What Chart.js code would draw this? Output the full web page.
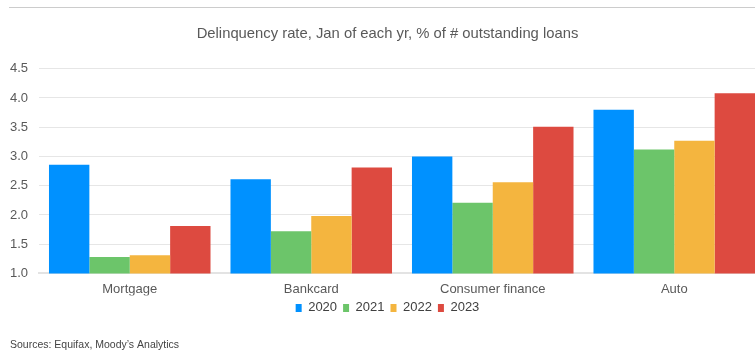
<!DOCTYPE html>
<html>
<head>
<meta charset="utf-8">
<script src="https://cdn.jsdelivr.net/npm/chart.js@4"></script>
<style>
  html, body { margin: 0; padding: 0; overflow: hidden; background: #ffffff; }
  #frame { position: relative; width: 755px; height: 351px; overflow: hidden; }
  #rule { position: absolute; top: 7px; left: 9px; right: 0; height: 1px; background: #cccccc; }
  #wrap { position: absolute; top: 0; left: 0; width: 775px; height: 351px; }
</style>
</head>
<body>
<div id="frame">
  <div id="rule"></div>
  <div id="wrap"><canvas id="chart"></canvas></div>
</div>
<script>
// Loan categories along the x axis
const categories = ['Mortgage', 'Bankcard', 'Consumer finance', 'Auto'];

// Delinquency rate in January of each year, % of outstanding loans
const rate2020 = [2.86, 2.61, 3.00, 3.80];
const rate2021 = [1.28, 1.72, 2.21, 3.12];
const rate2022 = [1.31, 1.98, 2.56, 3.27];
const rate2023 = [1.81, 2.81, 3.51, 4.08];

const seriesLabels = ['2020', '2021', '2022', '2023'];
const seriesColors = ['#0091FF', '#6CC56A', '#F4B53F', '#DD4A40'];

// Value axis ticks
const yTicks = [1.0, 1.5, 2.0, 2.5, 3.0, 3.5, 4.0, 4.5];

const titleText = 'Delinquency rate, Jan of each yr, % of # outstanding loans';
const sourceText = 'Sources: Equifax, Moody\u2019s Analytics';

const seriesValues = [rate2020, rate2021, rate2022, rate2023];

const datasets = seriesLabels.map((label, i) => ({
  label: label,
  data: seriesValues[i],
  backgroundColor: seriesColors[i],
  borderWidth: 0,
  categoryPercentage: 0.89,
  barPercentage: 1.0
}));

const fontFamily = '"Liberation Sans", Arial, Helvetica, sans-serif';

new Chart(document.getElementById('chart'), {
  type: 'bar',
  data: { labels: categories, datasets: datasets },
  options: {
    responsive: true,
    maintainAspectRatio: false,
    animation: false,
    layout: { padding: { left: 10, right: 10, top: 0, bottom: 0 } },
    scales: {
      x: {
        afterFit: (axis) => { axis.height = 22; },
        grid: { display: false, drawTicks: false },
        border: { display: true, color: '#e3e3e3', width: 2 },
        ticks: {
          color: '#595959',
          font: { family: fontFamily, size: 13 },
          padding: 8,
          maxRotation: 0
        }
      },
      y: {
        min: yTicks[0],
        max: yTicks[yTicks.length - 1],
        afterBuildTicks: (axis) => { axis.ticks = yTicks.map(v => ({ value: v })); },
        afterFit: (axis) => { axis.width = 29; },
        grid: { color: '#e6e6e6', lineWidth: 1, drawTicks: false },
        border: { display: false },
        ticks: {
          color: '#595959',
          font: { family: fontFamily, size: 13 },
          padding: 11,
          callback: (v) => Number(v).toFixed(1)
        }
      }
    },
    plugins: {
      title: {
        display: true,
        text: titleText,
        color: '#595959',
        font: { family: fontFamily, size: 14.8, weight: 'normal' },
        padding: { top: 25, bottom: 26 }
      },
      subtitle: {
        display: true,
        text: sourceText,
        position: 'bottom',
        align: 'start',
        color: '#444444',
        font: { family: fontFamily, size: 10.5 },
        padding: { top: 14, bottom: 0 }
      },
      legend: {
        position: 'bottom',
        labels: {
          boxWidth: 6,
          boxHeight: 8,
          padding: 6,
          color: '#404040',
          font: { family: fontFamily, size: 13 }
        }
      },
      tooltip: { enabled: false }
    }
  }
});
</script>
</body>
</html>
